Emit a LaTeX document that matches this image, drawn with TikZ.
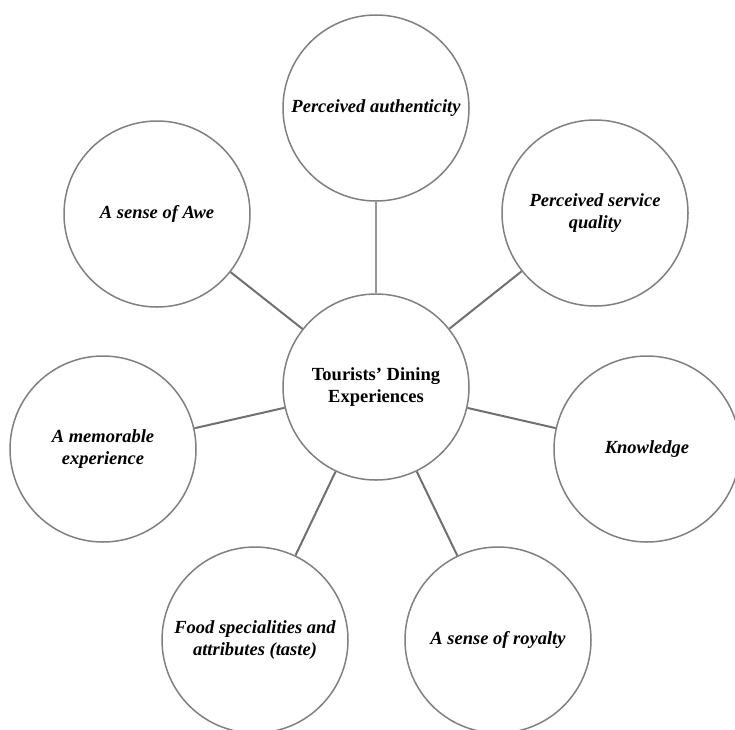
\documentclass[tikz,border=0pt]{standalone}
\usepackage{fontspec}
\setmainfont{Liberation Serif}
\begin{document}
\begin{tikzpicture}[x=1pt,y=-1pt,
  bubble/.style={circle,draw=circgray,line width=1.5pt,minimum size=186pt,inner sep=0pt,align=center,
    font=\fontsize{18.5}{22.5}\selectfont\bfseries\itshape},
  hub/.style={bubble,font=\fontsize{18.5}{22.5}\selectfont\bfseries},
  link/.style={draw=linkgray,line width=2pt},
  thinlink/.style={draw=thingray,line width=1.2pt}]
\definecolor{circgray}{RGB}{128,128,128}
\definecolor{linkgray}{RGB}{112,112,112}
\definecolor{thingray}{RGB}{150,150,150}
\useasboundingbox (0,0) rectangle (735,729);
\fill[white] (0,0) rectangle (735,729);
\node[hub] (c) at (376,387) {Tourists’ Dining\\Experiences};
\node[bubble] (top) at (376,108) {Perceived authenticity};
\node[bubble] (awe) at (157,214) {A sense of Awe};
\node[bubble] (serv) at (595,213) {Perceived service\\quality};
\node[bubble] (mem) at (103,449) {A memorable\\experience};
\node[bubble] (know) at (647,449) {Knowledge};
\node[bubble] (food) at (255,640) {Food specialities and\\attributes (taste)};
\node[bubble] (roy) at (498,640) {A sense of royalty};
\draw[thinlink] (c) -- (top);
\draw[link] (c) -- (awe);
\draw[link] (c) -- (serv);
\draw[link] (c) -- (mem);
\draw[link] (c) -- (know);
\draw[link] (c) -- (food);
\draw[link] (c) -- (roy);
\end{tikzpicture}
\end{document}
